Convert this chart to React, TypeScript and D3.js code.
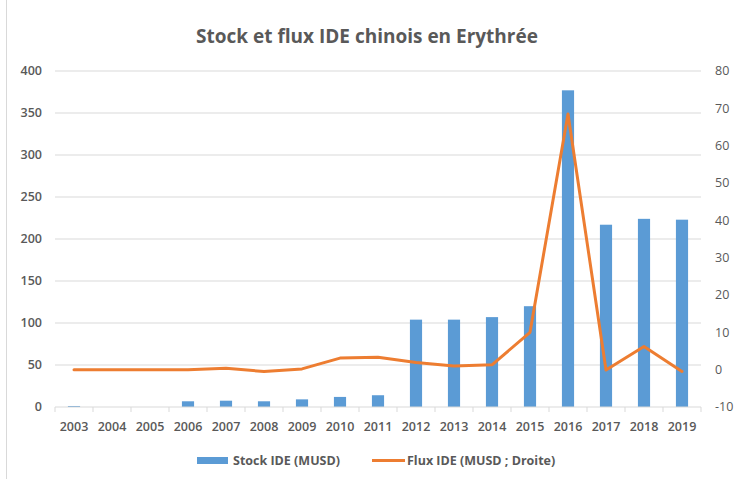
import * as d3 from "d3";

const years = ["2003", "2004", "2005", "2006", "2007", "2008", "2009", "2010", "2011", "2012", "2013", "2014", "2015", "2016", "2017", "2018", "2019"];
const stock = [1.2, 0, 0, 6.8, 7.5, 6.8, 9.1, 12, 14, 104, 104, 107, 120, 377, 217, 224, 223];
const flux = [0, 0, 0, 0, 0.4, -0.5, 0.2, 3.1, 3.3, 1.9, 1.0, 1.3, 10, 68.5, -0.1, 6.2, -0.5];
const leftTicks = [0, 50, 100, 150, 200, 250, 300, 350, 400];
const rightTicks = [-10, 0, 10, 20, 30, 40, 50, 60, 70, 80];

export default function App() {
  const width = 739;
  const height = 479;
  const margin = { top: 71, right: 38, bottom: 72, left: 55 };
  const innerWidth = width - margin.left - margin.right;
  const innerHeight = height - margin.top - margin.bottom;
  const font = "'Open Sans', 'Liberation Sans', sans-serif";
  const textColor = "#595959";

  const xScale = d3.scaleBand().domain(years).range([0, innerWidth]);
  const yLeft = d3.scaleLinear().domain([0, 400]).range([innerHeight, 0]);
  const yRight = d3.scaleLinear().domain([-10, 80]).range([innerHeight, 0]);
  const barWidth = xScale.bandwidth() * 0.32;

  const line = d3
    .line<number>()
    .x((_, i) => xScale(years[i])! + xScale.bandwidth() / 2)
    .y((d) => yRight(d));

  return (
    <div style={{ position: "absolute", left: 0, top: 0 }}>
      <svg width={width} height={height} style={{ display: "block" }}>
        <rect x={0} y={0} width={width} height={height} fill="white" />
        <rect x={6.5} y={-1} width={width} height={height + 2} fill="none" stroke="#d9d9d9" />
        <text
          x={367}
          y={43}
          textAnchor="middle"
          fontSize={19}
          fontWeight="bold"
          fontFamily={font}
          fill={textColor}
        >
          Stock et flux IDE chinois en Erythrée
        </text>
        <g transform={`translate(${margin.left}, ${margin.top})`}>
          {leftTicks.map((t) => (
            <g key={t}>
              {t !== 0 && (
                <line x1={0} x2={innerWidth} y1={yLeft(t)} y2={yLeft(t)} stroke="#d9d9d9" strokeWidth={1} />
              )}
              <text
                x={-13}
                y={yLeft(t)}
                dy="0.35em"
                textAnchor="end"
                fontSize={12.5}
                fontWeight={600}
                fontFamily={font}
                fill={textColor}
              >
                {t}
              </text>
            </g>
          ))}
          {rightTicks.map((t) => (
            <text
              key={t}
              x={innerWidth + 14}
              y={yRight(t)}
              dy="0.35em"
              textAnchor="start"
              fontSize={12.5}
              fontFamily={font}
              fill={textColor}
            >
              {t}
            </text>
          ))}
          {years.map((y, i) => (
            <g key={y}>
              <rect
                x={xScale(y)! + (xScale.bandwidth() - barWidth) / 2}
                y={yLeft(stock[i])}
                width={barWidth}
                height={innerHeight - yLeft(stock[i])}
                fill="#5b9bd5"
              />
              <text
                x={xScale(y)! + xScale.bandwidth() / 2}
                y={innerHeight + 20}
                dy="0.35em"
                textAnchor="middle"
                fontSize={12.5}
                fontWeight={600}
                fontFamily={font}
                fill={textColor}
              >
                {y}
              </text>
            </g>
          ))}
          <line x1={0} x2={innerWidth} y1={innerHeight} y2={innerHeight} stroke="#d9d9d9" />
          {[...years.map((y) => xScale(y)!), innerWidth].map((x, i) => (
            <line key={i} x1={x} x2={x} y1={innerHeight} y2={innerHeight + 5} stroke="#d9d9d9" />
          ))}
          <path
            d={line(flux) ?? ""}
            fill="none"
            stroke="#ed7d31"
            strokeWidth={3}
            strokeLinejoin="round"
            strokeLinecap="round"
          />
        </g>
        <rect x={197} y={457} width={31} height={7} fill="#5b9bd5" />
        <text x={233} y={465} fontSize={12.5} fontWeight="bold" fontFamily={font} fill={textColor}>
          Stock IDE (MUSD)
        </text>
        <line x1={372} x2={405} y1={460.5} y2={460.5} stroke="#ed7d31" strokeWidth={3} />
        <text x={407} y={465} fontSize={12.5} fontWeight="bold" fontFamily={font} fill={textColor}>
          Flux IDE (MUSD ; Droite)
        </text>
      </svg>
    </div>
  );
}
